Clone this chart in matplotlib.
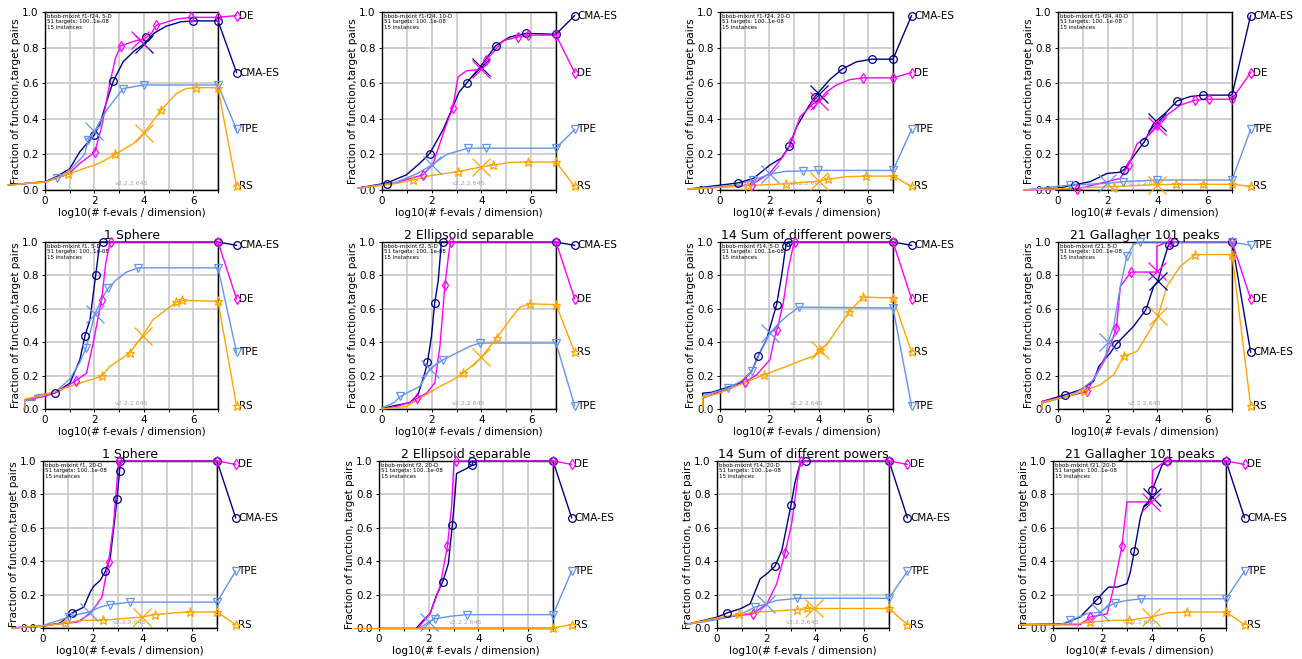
import matplotlib.pyplot as plt

ALGS = ['CMA-ES', 'DE', 'TPE', 'RS']
COLORS = {'CMA-ES': '#000080', 'DE': '#ff00ff', 'TPE': '#6495ed', 'RS': '#ffa500'}
MARKERS = {'CMA-ES': 'o', 'DE': 'd', 'TPE': 'v', 'RS': '*'}
LABEL_Y = [0.98, 0.66, 0.34, 0.02]   # right-hand legend slots, best first

titles = ['', '', '', '',
          '1 Sphere', '2 Ellipsoid separable', '14 Sum of different powers', '21 Gallagher 101 peaks',
          '1 Sphere', '2 Ellipsoid separable', '14 Sum of different powers', '21 Gallagher 101 peaks']
infos = ['bbob-mixint f1-f24, 5-D', 'bbob-mixint f1-f24, 10-D', 'bbob-mixint f1-f24, 20-D',
         'bbob-mixint f1-f24, 40-D', 'bbob-mixint f1, 5-D', 'bbob-mixint f2, 5-D',
         'bbob-mixint f14, 5-D', 'bbob-mixint f21, 5-D', 'bbob-mixint f1, 20-D',
         'bbob-mixint f2, 20-D', 'bbob-mixint f14, 20-D', 'bbob-mixint f21, 20-D']
ylabels = ['Fraction of function,target pairs'] * 9 + ['Fraction of function, target pairs'] * 3

# ---- f1-f24, 5-D
p1_lines = {
    'CMA-ES': [(-1.48, .028), (0, .047), (.47, .075), (1.0, .12), (1.41, .215), (2.0, .31), (2.22, .37),
               (2.5, .5), (2.76, .61), (3.16, .72), (3.6, .78), (4.0, .82), (4.4, .88), (4.9, .92),
               (5.5, .945), (6.0, .95), (7, .95)],
    'DE': [(-1.48, .028), (0, .045), (.95, .09), (1.41, .15), (1.8, .19), (2.02, .215), (2.3, .36),
           (2.62, .6), (2.85, .74), (3.06, .81), (3.7, .84), (4.0, .845), (4.3, .88), (4.5, .925),
           (5.3, .96), (5.92, .97), (7, .97)],
    'TPE': [(-1.48, .028), (0, .045), (.47, .07), (1.0, .11), (1.6, .2), (1.75, .28), (2.0, .33),
            (2.5, .45), (3.16, .57), (4.0, .59), (7, .59)],
    'RS': [(-1.48, .028), (0, .045), (.94, .09), (2.2, .15), (2.83, .2), (3.57, .26), (4.0, .32),
           (4.71, .45), (5.3, .54), (5.7, .57), (6.1, .575), (7, .575)],
}
p1_marks = {
    'CMA-ES': [(2.0, .31), (2.76, .61), (4.1, .86), (6.0, .95), (7, .95)],
    'DE': [(2.02, .215), (3.06, .81), (4.5, .925), (5.92, .97), (7, .97)],
    'TPE': [(.47, .07), (1.75, .28), (3.16, .57), (4.0, .59), (7, .59)],
    'RS': [(.94, .09), (2.83, .2), (4.71, .45), (6.1, .575), (7, .575)],
}
p1_cross = {'CMA-ES': (4.0, .82), 'DE': (3.85, .84), 'TPE': (2.0, .33), 'RS': (4.0, .32)}
p1_order = ['DE', 'CMA-ES', 'TPE', 'RS']

# ---- f1-f24, 10-D
p2_lines = {
    'CMA-ES': [(-.97, .01), (.21, .04), (.98, .085), (1.52, .15), (1.92, .205), (2.46, .34), (2.86, .47),
               (3.1, .55), (3.4, .6), (3.94, .69), (4.57, .81), (5.15, .86), (5.79, .88), (7, .875)],
    'DE': [(-.97, .01), (.5, .04), (1.65, .085), (2.06, .15), (2.53, .345), (2.84, .46), (3.06, .635),
           (3.4, .67), (3.8, .675), (4.0, .68), (4.2, .73), (4.88, .84), (5.48, .86), (5.89, .87), (7, .87)],
    'TPE': [(-.97, .01), (.5, .04), (1.38, .09), (2.0, .14), (2.6, .2), (3.47, .235), (4.2, .235), (7, .235)],
    'RS': [(-.97, .01), (.5, .035), (1.25, .056), (1.92, .08), (3.04, .103), (4.0, .13), (4.48, .14),
           (5.15, .155), (5.89, .157), (7, .157)],
}
p2_marks = {
    'CMA-ES': [(.21, .035), (1.92, .205), (3.4, .6), (4.57, .81), (5.79, .88), (7, .875)],
    'DE': [(1.65, .085), (2.84, .46), (4.2, .73), (5.48, .86), (5.89, .87), (7, .87)],
    'TPE': [(3.47, .235), (4.2, .235), (7, .235)],
    'RS': [(1.25, .056), (3.04, .103), (4.48, .14), (5.89, .157), (7, .157)],
}
p2_cross = {'CMA-ES': (4.0, .69), 'DE': (4.0, .68), 'TPE': (2.0, .14), 'RS': (4.0, .13)}
p2_order = ['CMA-ES', 'DE', 'TPE', 'RS']

# ---- f1-f24, 20-D
p3_lines = {
    'CMA-ES': [(-1.28, .005), (.74, .04), (1.35, .065), (2.02, .14), (2.49, .18), (2.8, .245), (3.1, .355),
               (3.5, .45), (3.84, .525), (4.0, .55), (4.44, .62), (4.95, .68), (5.52, .72), (6.15, .735),
               (7, .735)],
    'DE': [(-1.28, .005), (.5, .02), (1.28, .03), (2.02, .095), (2.56, .19), (2.89, .27), (3.23, .41),
           (3.77, .485), (4.0, .5), (4.3, .55), (4.71, .59), (5.25, .62), (5.79, .63), (7, .63)],
    'TPE': [(-1.28, .005), (.5, .025), (1.35, .055), (2.02, .09), (2.69, .105), (3.34, .107),
            (3.97, .11), (7, .11)],
    'RS': [(-1.28, .005), (1.14, .025), (2.69, .035), (4.0, .05), (4.37, .06), (5.1, .075), (5.9, .078),
           (7, .078)],
}
p3_marks = {
    'CMA-ES': [(.74, .04), (2.8, .245), (3.84, .525), (4.95, .68), (6.15, .735), (7, .735)],
    'DE': [(1.28, .03), (2.89, .27), (3.77, .485), (5.79, .63), (7, .63)],
    'TPE': [(1.35, .055), (3.34, .107), (3.97, .11), (7, .11)],
    'RS': [(1.14, .025), (2.69, .035), (4.37, .06), (5.9, .078), (7, .078)],
}
p3_cross = {'CMA-ES': (4.0, .54), 'DE': (4.0, .5), 'TPE': (2.02, .09), 'RS': (4.0, .05)}
p3_order = ['CMA-ES', 'DE', 'TPE', 'RS']

# ---- f1-f24, 40-D
p4_lines = {
    'CMA-ES': [(-1.38, 0), (0, .01), (.7, .03), (1.3, .047), (1.97, .093), (2.5, .1), (2.67, .115),
               (3.04, .19), (3.47, .27), (3.85, .375), (4.38, .44), (4.79, .5), (5.32, .525), (5.83, .533),
               (7, .533)],
    'DE': [(-1.38, 0), (.76, .005), (1.97, .047), (2.5, .065), (2.84, .14), (3.18, .26), (3.58, .3),
           (3.98, .365), (4.38, .42), (4.92, .477), (5.52, .505), (6.06, .51), (7, .51)],
    'TPE': [(-1.38, 0), (.5, .028), (1.97, .037), (2.6, .047), (3.98, .056), (7, .056)],
    'RS': [(-1.38, 0), (2.24, .019), (4.0, .03), (4.75, .032), (5.83, .032), (7, .032)],
}
p4_marks = {
    'CMA-ES': [(.7, .03), (2.67, .115), (3.47, .27), (4.79, .5), (5.83, .533), (7, .533)],
    'DE': [(.76, .005), (2.84, .14), (3.98, .365), (5.52, .505), (6.06, .51), (7, .51)],
    'TPE': [(.5, .028), (2.6, .047), (3.98, .056), (7, .056)],
    'RS': [(2.24, .019), (4.75, .032), (5.83, .032), (7, .032)],
}
p4_cross = {'CMA-ES': (4.0, .38), 'DE': (4.0, .36), 'TPE': (1.97, .037), 'RS': (4.0, .03)}
p4_order = ['CMA-ES', 'DE', 'TPE', 'RS']

# ---- f1, 5-D
p5_lines = {
    'CMA-ES': [(-.8, 0), (-.8, .055), (-.4, .055), (-.4, .08), (.4, .095), (1.01, .155), (1.41, .295),
               (1.62, .44), (1.82, .535), (2.05, .8), (2.22, 1.0), (7, 1.0)],
    'DE': [(-.8, 0), (-.8, .055), (0, .075), (.6, .11), (1.25, .17), (1.68, .215), (1.95, .395),
           (2.29, .655), (2.46, .875), (2.62, .99), (2.69, 1.0), (7, 1.0)],
    'TPE': [(-.8, 0), (-.8, .055), (-.4, .055), (-.4, .08), (.4, .1), (1.01, .18), (1.41, .28),
            (1.66, .365), (2.02, .57), (2.36, .675), (2.56, .725), (2.9, .775), (3.3, .82), (3.77, .845),
            (7, .845)],
    'RS': [(-.8, 0), (-.8, .06), (0, .085), (.6, .115), (1.41, .155), (2.29, .195), (2.62, .255),
           (3.03, .295), (3.43, .335), (3.95, .44), (4.37, .535), (4.91, .595), (5.32, .64), (5.56, .65),
           (7, .645)],
}
p5_marks = {
    'CMA-ES': [(.4, .095), (1.62, .44), (2.05, .8), (2.33, 1.0), (7, 1.0)],
    'DE': [(1.25, .17), (2.29, .655), (2.69, 1.0), (7, 1.0)],
    'TPE': [(1.66, .365), (2.56, .725), (3.77, .845), (7, .845)],
    'RS': [(2.29, .195), (3.43, .335), (5.32, .64), (5.56, .65), (7, .645)],
}
p5_cross = {'TPE': (2.02, .57), 'RS': (3.95, .44)}
p5_order = ['CMA-ES', 'DE', 'TPE', 'RS']

# ---- f2, 5-D
p6_lines = {
    'CMA-ES': [(.04, .005), (.44, .018), (1.12, .038), (1.45, .085), (1.72, .215), (1.83, .28), (1.99, .435),
               (2.12, .635), (2.26, .765), (2.39, 1.0), (7, 1.0)],
    'DE': [(0, 0), (.58, .015), (1.12, .04), (1.42, .065), (1.79, .095), (2.12, .155), (2.33, .375),
           (2.53, .74), (2.69, .935), (2.76, 1.0), (7, 1.0)],
    'TPE': [(0, .005), (.5, .04), (.74, .075), (1.12, .105), (1.52, .135), (1.92, .24), (2.46, .295),
            (3.0, .335), (3.53, .375), (3.94, .395), (7, .395)],
    'RS': [(0, 0), (.98, .015), (1.65, .075), (2.33, .135), (2.86, .175), (3.27, .215), (3.67, .265),
           (4.0, .31), (4.61, .425), (5.15, .535), (5.55, .61), (5.95, .63), (7, .625)],
}
p6_marks = {
    'CMA-ES': [(1.83, .28), (2.12, .635), (2.46, 1.0), (7, 1.0)],
    'DE': [(1.42, .065), (2.53, .74), (2.76, 1.0), (7, 1.0)],
    'TPE': [(.74, .075), (2.46, .295), (3.94, .395), (7, .395)],
    'RS': [(3.27, .215), (4.61, .425), (5.95, .63), (7, .625)],
}
p6_cross = {'TPE': (1.92, .24), 'RS': (4.0, .31)}
p6_order = ['CMA-ES', 'DE', 'RS', 'TPE']

# ---- f14, 5-D
p7_lines = {
    'CMA-ES': [(-.7, 0), (-.7, .095), (-.34, .1), (0, .115), (.81, .155), (1.28, .225), (1.55, .32),
               (1.88, .415), (2.29, .625), (2.49, .795), (2.66, .975), (2.76, 1.0), (7, 1.0)],
    'DE': [(-.7, 0), (-.7, .065), (0, .105), (1.01, .16), (1.48, .205), (2.02, .295), (2.22, .435),
           (2.31, .475), (2.56, .635), (2.76, .835), (2.96, .975), (3.03, 1.0), (7, 1.0)],
    'TPE': [(-.7, 0), (-.7, .08), (0, .11), (.34, .125), (.94, .175), (1.28, .225), (1.6, .33),
            (2.02, .455), (2.3, .5), (2.69, .555), (3.2, .61), (7, .605)],
    'RS': [(-.7, 0), (-.7, .07), (0, .095), (.94, .155), (1.78, .205), (2.69, .255), (3.36, .295),
           (3.77, .315), (4.04, .355), (4.31, .385), (4.64, .455), (5.22, .58), (5.79, .67), (7, .665)],
}
p7_marks = {
    'CMA-ES': [(1.55, .32), (2.29, .625), (2.66, .975), (2.76, 1.0), (7, 1.0)],
    'DE': [(1.01, .16), (2.31, .475), (3.03, 1.0), (7, 1.0)],
    'TPE': [(.34, .125), (1.28, .225), (3.2, .61), (7, .605)],
    'RS': [(1.78, .205), (4.04, .355), (5.22, .58), (5.79, .67), (7, .665)],
}
p7_cross = {'TPE': (2.02, .455), 'RS': (4.04, .355)}
p7_order = ['CMA-ES', 'DE', 'RS', 'TPE']

# ---- f21, 5-D
p8_lines = {
    'CMA-ES': [(-.64, 0), (-.64, .045), (.29, .085), (.9, .115), (1.43, .165), (1.64, .255), (2.1, .335),
               (2.35, .39), (3.04, .495), (3.54, .595), (3.85, .735), (4.02, .765), (4.18, .855),
               (4.45, .985), (4.65, 1.0), (7, 1.0)],
    'DE': [(-.64, 0), (-.64, .045), (.5, .08), (1.17, .105), (1.7, .255), (2.04, .355), (2.35, .485),
           (2.51, .735), (2.71, .775), (2.94, .82), (3.98, .82), (3.98, .975), (4.32, .995), (4.52, 1.0),
           (7, 1.0)],
    'TPE': [(-.64, 0), (-.64, .035), (.5, .08), (.9, .115), (1.43, .175), (1.9, .295), (2.01, .4),
            (2.24, .495), (2.51, .735), (2.77, .915), (3.04, .985), (3.28, 1.0), (7, 1.0)],
    'RS': [(-.64, 0), (-.64, .04), (.5, .08), (1.06, .11), (1.7, .145), (2.24, .205), (2.64, .315),
           (3.18, .345), (3.71, .475), (4.02, .555), (4.38, .735), (4.92, .855), (5.52, .925), (7, .925)],
}
p8_marks = {
    'CMA-ES': [(.29, .085), (2.35, .39), (3.54, .595), (4.45, .985), (4.65, 1.0), (7, 1.0)],
    'DE': [(1.17, .105), (2.35, .485), (2.94, .82), (4.52, 1.0), (7, 1.0)],
    'TPE': [(2.77, .915), (3.28, 1.0), (7, 1.0)],
    'RS': [(1.06, .11), (2.64, .315), (5.52, .925), (7, .925)],
}
p8_cross = {'CMA-ES': (4.02, .765), 'DE': (3.98, .825), 'TPE': (2.01, .4), 'RS': (4.02, .555)}
p8_order = ['TPE', 'DE', 'CMA-ES', 'RS']

# ---- f1, 20-D
p9_lines = {
    'CMA-ES': [(-1.25, 0), (0, .01), (.7, .03), (1.17, .09), (1.64, .125), (1.9, .215), (2.04, .25),
               (2.3, .285), (2.51, .34), (2.71, .425), (2.98, .775), (3.08, .94), (3.11, 1.0), (7, 1.0)],
    'DE': [(-1.25, 0), (0, .015), (1.37, .035), (1.9, .085), (2.37, .185), (2.64, .395), (2.84, .625),
           (2.98, .885), (3.04, 1.0), (7, 1.0)],
    'TPE': [(-1.25, 0), (0, .015), (1.03, .065), (1.5, .085), (1.84, .095), (2.3, .125), (2.68, .14),
            (3.51, .155), (7, .155)],
    'RS': [(-1.25, 0), (0, .012), (.9, .03), (1.57, .046), (2.4, .046), (3.98, .066), (4.49, .08),
           (5.25, .09), (5.9, .096), (7, .096)],
}
p9_marks = {
    'CMA-ES': [(1.17, .09), (2.51, .34), (2.98, .775), (3.08, .94), (3.11, 1.0), (7, 1.0)],
    'DE': [(2.64, .395), (3.04, 1.0), (7, 1.0)],
    'TPE': [(1.03, .065), (2.68, .14), (3.51, .155), (7, .155)],
    'RS': [(.9, .03), (2.4, .046), (4.49, .08), (5.9, .096), (7, .096)],
}
p9_cross = {'TPE': (1.84, .095), 'RS': (3.98, .066)}
p9_order = ['DE', 'CMA-ES', 'TPE', 'RS']

# ---- f2, 20-D
p10_lines = {
    'CMA-ES': [(1.51, 0), (1.78, .045), (2.05, .085), (2.31, .195), (2.56, .275), (2.79, .385), (2.95, .615),
               (3.06, .805), (3.12, .925), (3.39, .945), (3.76, .975), (3.76, 1.0), (7, 1.0)],
    'DE': [(1.57, 0), (2.05, .085), (2.45, .245), (2.75, .49), (2.92, .725), (3.01, .985), (3.1, 1.0),
           (7, 1.0)],
    'TPE': [(1.64, 0), (2.0, .036), (2.25, .055), (2.85, .07), (3.53, .08), (7, .08)],
    'RS': [(-1.0, 0), (7, 0)],
}
p10_marks = {
    'CMA-ES': [(2.56, .275), (2.95, .615), (3.76, .975), (3.76, 1.0), (7, 1.0)],
    'DE': [(2.75, .49), (3.1, 1.0), (7, 1.0)],
    'TPE': [(2.25, .055), (3.53, .08), (7, .08)],
    'RS': [(7, 0)],
}
p10_cross = {'TPE': (2.0, .036)}
p10_order = ['DE', 'CMA-ES', 'TPE', 'RS']

# ---- f14, 20-D
p11_lines = {
    'CMA-ES': [(-1.28, .02), (0, .065), (.41, .09), (.95, .115), (1.35, .145), (1.76, .295), (2.03, .325),
               (2.36, .37), (2.64, .465), (3.01, .735), (3.18, .875), (3.38, .985), (3.61, 1.0), (7, 1.0)],
    'DE': [(-1.28, .02), (0, .056), (.95, .076), (1.46, .085), (2.03, .145), (2.43, .265), (2.77, .45),
           (3.04, .625), (3.31, .925), (3.41, 1.0), (7, 1.0)],
    'TPE': [(-1.28, .02), (0, .05), (.95, .08), (1.55, .125), (2.0, .145), (2.43, .165), (3.27, .178),
            (7, .178)],
    'RS': [(-1.28, .02), (0, .06), (.88, .082), (1.76, .096), (3.27, .11), (3.65, .117), (7, .117)],
}
p11_marks = {
    'CMA-ES': [(.41, .09), (2.36, .37), (3.01, .735), (3.61, 1.0), (7, 1.0)],
    'DE': [(1.46, .085), (2.77, .45), (3.41, 1.0), (7, 1.0)],
    'TPE': [(1.55, .125), (3.27, .178), (7, .178)],
    'RS': [(.88, .082), (3.27, .11), (3.65, .117), (7, .117)],
}
p11_cross = {'TPE': (2.0, .145), 'RS': (3.95, .117)}
p11_order = ['DE', 'CMA-ES', 'TPE', 'RS']

# ---- f21, 20-D
p12_lines = {
    'CMA-ES': [(-1.32, .02), (.43, .026), (1.1, .066), (1.78, .17), (2.05, .215), (2.25, .245), (2.59, .245),
               (2.99, .265), (3.13, .335), (3.29, .46), (3.54, .665), (3.67, .725), (3.87, .745),
               (4.01, .825), (4.28, .925), (4.41, .975), (4.62, 1.0), (7, 1.0)],
    'DE': [(-1.32, .02), (1.1, .02), (1.51, .066), (2.19, .085), (2.46, .245), (2.79, .49), (2.99, .755),
           (3.98, .755), (4.04, .945), (4.41, .985), (4.62, 1.0), (7, 1.0)],
    'TPE': [(-1.32, .02), (.3, .02), (.7, .046), (1.38, .086), (1.92, .096), (2.19, .125), (2.52, .15),
            (2.99, .165), (3.58, .175), (7, .175)],
    'RS': [(-1.32, .02), (1.0, .025), (1.51, .036), (2.46, .046), (3.06, .046), (3.98, .066), (4.62, .09),
           (5.42, .096), (7, .096)],
}
p12_marks = {
    'CMA-ES': [(1.78, .17), (3.29, .46), (4.01, .825), (4.62, 1.0), (7, 1.0)],
    'DE': [(1.51, .066), (2.79, .49), (4.62, 1.0), (7, 1.0)],
    'TPE': [(.7, .046), (2.52, .15), (3.58, .175), (7, .175)],
    'RS': [(1.51, .036), (3.06, .046), (5.42, .096), (7, .096)],
}
p12_cross = {'CMA-ES': (4.01, .785), 'DE': (3.98, .755), 'TPE': (1.92, .096), 'RS': (3.98, .066)}
p12_order = ['DE', 'CMA-ES', 'TPE', 'RS']

panels = [
    (p1_lines, p1_marks, p1_cross, p1_order), (p2_lines, p2_marks, p2_cross, p2_order),
    (p3_lines, p3_marks, p3_cross, p3_order), (p4_lines, p4_marks, p4_cross, p4_order),
    (p5_lines, p5_marks, p5_cross, p5_order), (p6_lines, p6_marks, p6_cross, p6_order),
    (p7_lines, p7_marks, p7_cross, p7_order), (p8_lines, p8_marks, p8_cross, p8_order),
    (p9_lines, p9_marks, p9_cross, p9_order), (p10_lines, p10_marks, p10_cross, p10_order),
    (p11_lines, p11_marks, p11_cross, p11_order), (p12_lines, p12_marks, p12_cross, p12_order),
]

W, H = 1302, 659
fig = plt.figure(figsize=(W / 100, H / 100), dpi=100)

# axes frames in pixels: (left, right) per column, (top, bottom) per row
row_tb = [(12, 190), (242, 409), (461, 628)]
col_lr = [[(45, 218), (382, 556), (720, 893), (1058, 1232)],
          [(45, 218), (382, 556), (720, 893), (1058, 1232)],
          [(43, 217), (379, 553), (717, 889), (1053, 1226)]]

for i, (lines, marks, cross, order) in enumerate(panels):
    r, c = divmod(i, 4)
    top, bot = row_tb[r]
    lft, rgt = col_lr[r][c]
    ax = fig.add_axes([lft / W, 1 - bot / H, (rgt - lft) / W, (bot - top) / H])
    ax.set_xlim(0, 7)
    ax.set_ylim(0, 1)
    ax.set_xticks([0, 2, 4, 6])
    ax.set_xticks([1, 3, 5, 7], minor=True)
    ax.set_yticks([0, .2, .4, .6, .8, 1.0])
    ax.set_yticklabels(['0.0', '0.2', '0.4', '0.6', '0.8', '1.0'])
    ax.grid(True, which='both', color='#c4c4c4', lw=1.1)
    ax.set_axisbelow(True)
    ax.tick_params(labelsize=7.5, length=2.5, width=0.7, pad=2)
    ax.tick_params(which='minor', length=2, width=0.7)
    for s in ax.spines.values():
        s.set_linewidth(1.0)
    ax.set_xlabel('log10(# f-evals / dimension)', fontsize=7.5, labelpad=1)
    ax.set_ylabel(ylabels[i], fontsize=7.5, labelpad=1)
    if titles[i]:
        ax.set_title(titles[i], fontsize=9, pad=2)
    ax.text(0.012, 0.99, infos[i] + '\n51 targets: 100..1e-08\n15 instances', transform=ax.transAxes,
            fontsize=4, va='top', ha='left', linespacing=1.15, zorder=1)
    ax.text(0.5, 0.02, 'v2.2.2.645', transform=ax.transAxes, fontsize=4.5, color='#a0a0a0',
            ha='center', va='bottom', zorder=1)

    for alg in ALGS:
        col = COLORS[alg]
        mk = MARKERS[alg]
        ms = 6.5 if mk == '*' else 5.5
        xs = [p[0] for p in lines[alg]]
        ys = [p[1] for p in lines[alg]]
        ax.plot(xs, ys, color=col, lw=1.0, clip_on=False, zorder=3)
        ax.plot([p[0] for p in marks[alg]], [p[1] for p in marks[alg]], ls='none', marker=mk,
                ms=ms, mfc='none', mec=col, mew=0.9, clip_on=False, zorder=4)
        if alg in cross:
            ax.plot([cross[alg][0]], [cross[alg][1]], ls='none', marker='x', ms=13, mec=col,
                    mew=0.9, clip_on=False, zorder=4)
        ly = LABEL_Y[order.index(alg)]
        ax.plot([7, 7.75], [ys[-1], ly], color=col, lw=1.0, clip_on=False, zorder=3)
        ax.plot([7.75], [ly], marker=mk, ms=ms, mfc='none', mec=col, mew=0.9, clip_on=False, zorder=4)
        ax.text(7.85, ly, alg, fontsize=7.5, va='center', ha='left')

fig.savefig('out.png', dpi=100)
